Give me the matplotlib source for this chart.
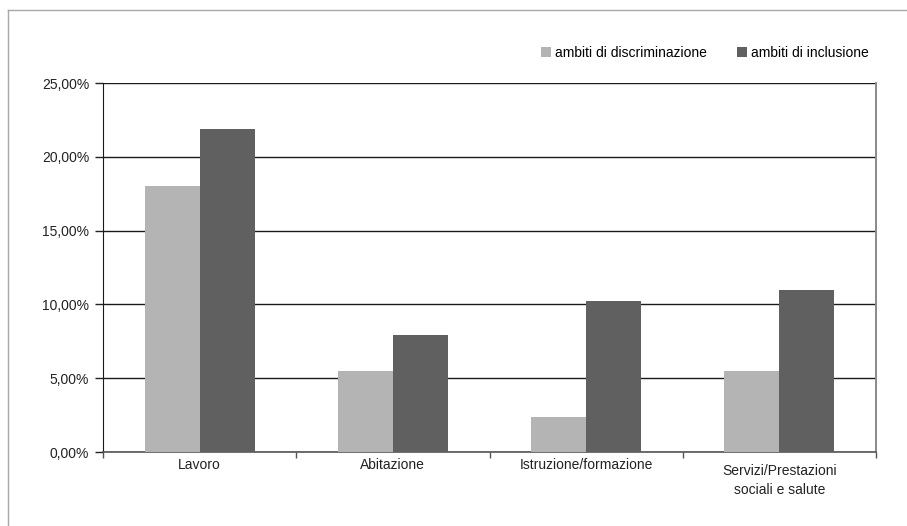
import matplotlib.pyplot as plt
import matplotlib.transforms as mtransforms
import numpy as np
from matplotlib.lines import Line2D

categories = ['Lavoro', 'Abitazione', 'Istruzione/formazione',
              'Servizi/Prestazioni\nsociali e salute']
discriminazione = [18.0, 5.5, 2.4, 5.5]
inclusione = [21.9, 7.9, 10.2, 11.0]
series_names = ['ambiti di discriminazione', 'ambiti di inclusione']
yticks = [0, 5, 10, 15, 20, 25]

plt.rcParams['font.family'] = ['Liberation Sans', 'DejaVu Sans']

fig = plt.figure(figsize=(9.07, 5.26), dpi=100)
W, H = 907, 526

# Outer grey frame (top and left only, it runs off the picture)
fig.add_artist(Line2D([8 / W, 1], [1 - 10 / H, 1 - 10 / H], color='#a8a8a8', lw=1.0))
fig.add_artist(Line2D([8 / W, 8 / W], [0, 1 - 10 / H], color='#a8a8a8', lw=1.0))

ax = fig.add_axes([103 / W, 1 - 452 / H, (876 - 103) / W, (452 - 83) / H])

x = np.arange(len(categories))
w = 0.285
ax.bar(x - w / 2, discriminazione, w, color='#b3b4b3', label=series_names[0], zorder=3)
ax.bar(x + w / 2, inclusione, w, color='#606060', label=series_names[1], zorder=3)

ax.set_xlim(-0.5, len(categories) - 0.5)
ax.set_ylim(0, 25)
ax.set_yticks(yticks)
ax.set_yticklabels([f'{v:.2f}%'.replace('.', ',') for v in yticks], fontsize=10, color='#222222')
ax.yaxis.grid(True, color='#1a1a1a', lw=1.0, zorder=1)

ax.set_xticks(x)
ax.set_xticklabels(categories, fontsize=10, color='#222222', linespacing=1.45)
ax.tick_params(axis='x', length=0, pad=4)
ax.set_xticks(np.arange(-0.5, len(categories)), minor=True)
ax.tick_params(axis='x', which='minor', length=4, color='#555555', width=1)
ax.tick_params(axis='y', length=6, color='#222222', width=1, pad=4)

# two-line label sits a bit lower, as in the original
last = ax.get_xticklabels()[-1]
last.set_transform(last.get_transform() + mtransforms.ScaledTranslation(0, -6 / 100, fig.dpi_scale_trans))

ax.spines['top'].set_visible(False)
ax.spines['left'].set_color('#1a1a1a')
ax.spines['bottom'].set_color('#555555')
ax.spines['bottom'].set_linewidth(1.2)
ax.spines['right'].set_color('#8a8a8a')
ax.spines['right'].set_linewidth(1.4)

ax.legend(loc='lower right', bbox_to_anchor=(869 / W, 1 - 60 / H), bbox_transform=fig.transFigure,
          ncol=2, frameon=False, fontsize=10, handlelength=0.7, handleheight=0.7,
          handletextpad=0.3, columnspacing=2.2, borderaxespad=0, borderpad=0)

fig.savefig('out.png', dpi=100)
